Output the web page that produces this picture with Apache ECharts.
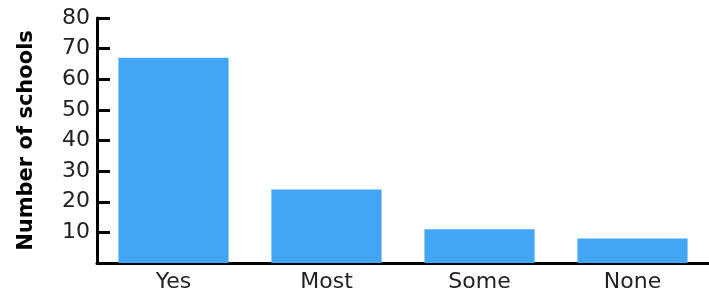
<!DOCTYPE html>
<html>
<head>
<meta charset="utf-8">
<script src="https://cdn.jsdelivr.net/npm/echarts@6/dist/echarts.min.js"></script>
<style>
  html, body { margin: 0; padding: 0; background: #fff; }
  #chart { width: 709px; height: 288px; }
</style>
</head>
<body>
<div id="chart"></div>
<script>
const categories = ['Yes', 'Most', 'Some', 'None']
const schools = [67, 24, 11, 8]
const yTicks = [0, 10, 20, 30, 40, 50, 60, 70, 80]

const font = '"DejaVu Sans", Verdana, sans-serif'
const chart = echarts.init(document.getElementById('chart'))

chart.setOption({
  animation: false,
  grid: {
    left: 97,
    right: 0,
    top: 18,
    bottom: 25,
    outerBoundsMode: 'none'
  },
  xAxis: {
    type: 'category',
    data: categories,
    axisLine: { lineStyle: { color: '#000', width: 3 } },
    axisTick: { inside: true, length: 6, lineStyle: { color: '#000', width: 2 } },
    axisLabel: { color: '#222', fontFamily: font, fontSize: 22, margin: 8 }
  },
  yAxis: {
    type: 'value',
    min: yTicks[0],
    max: yTicks[yTicks.length - 1],
    interval: 10,
    name: 'Number of schools',
    nameLocation: 'middle',
    nameGap: 60,
    nameTextStyle: { color: '#000', fontFamily: font, fontSize: 21, fontWeight: 'bold' },
    axisLine: { show: true, lineStyle: { color: '#000', width: 3 } },
    axisTick: { show: true, inside: true, length: 13, lineStyle: { color: '#000', width: 3 } },
    axisLabel: { color: '#222', fontFamily: font, fontSize: 22, margin: 7, showMinLabel: false },
    splitLine: { show: false }
  },
  series: [
    {
      name: 'Schools',
      type: 'bar',
      data: schools,
      barWidth: '72%',
      itemStyle: { color: '#42A5F5' }
    }
  ]
})
</script>
</body>
</html>
